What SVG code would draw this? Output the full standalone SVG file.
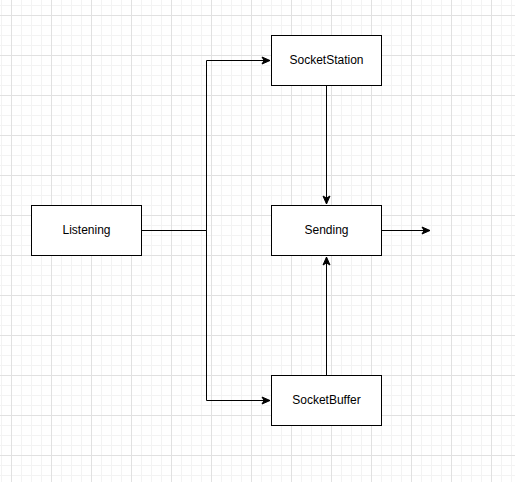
<svg xmlns="http://www.w3.org/2000/svg" width="515" height="482" viewBox="0 0 515 482">
  <style>
    .node rect { fill: #ffffff; stroke: #000000; stroke-width: 1; }
    .node text { font-family: "Liberation Sans", Arial, sans-serif; font-size: 12px; fill: #000000; text-anchor: middle; }
    .edge { fill: none; stroke: #000000; stroke-width: 1; }
  </style>
  <defs>
    <pattern id="grid" patternUnits="userSpaceOnUse" x="11" y="15" width="40" height="40">
      <path d="M10.5,0 V40 M20.5,0 V40 M30.5,0 V40 M0,10.5 H40 M0,20.5 H40 M0,30.5 H40" stroke="#f3f3f3" stroke-width="1" fill="none"/>
      <path d="M0.5,0 V40 M0,0.5 H40" stroke="#e1e1e1" stroke-width="1" fill="none"/>
    </pattern>
    <marker id="arrow" markerUnits="userSpaceOnUse" markerWidth="10" markerHeight="10" refX="8" refY="4" orient="auto" viewBox="0 0 10 8" overflow="visible">
      <path d="M0,0.5 L8,4 L0,7.5 L2,4 Z" fill="#000000" stroke="#000000" stroke-width="1" stroke-linejoin="miter"/>
    </marker>
  </defs>
  <rect x="0" y="0" width="515" height="482" fill="#ffffff"/>
  <rect x="0" y="0" width="515" height="482" fill="url(#grid)"/>

  <g id="connectors">
    <path class="edge" d="M141.5,230.5 H206.5 V60.5 H270" marker-end="url(#arrow)"/>
    <path class="edge" d="M141.5,230.5 H206.5 V400.5 H270" marker-end="url(#arrow)"/>
    <path class="edge" d="M326.5,85.5 V204" marker-end="url(#arrow)"/>
    <path class="edge" d="M326.5,375.5 V257" marker-end="url(#arrow)"/>
    <path class="edge" d="M381.5,230.5 H430" marker-end="url(#arrow)"/>
  </g>

  <g id="listening" class="node">
    <rect x="31.5" y="205.5" width="110" height="50"/>
    <text x="86.5" y="234">Listening</text>
  </g>
  <g id="socketstation" class="node">
    <rect x="271.5" y="35.5" width="110" height="50"/>
    <text x="326.5" y="64">SocketStation</text>
  </g>
  <g id="sending" class="node">
    <rect x="271.5" y="205.5" width="110" height="50"/>
    <text x="326.5" y="234">Sending</text>
  </g>
  <g id="socketbuffer" class="node">
    <rect x="271.5" y="375.5" width="110" height="50"/>
    <text x="326.5" y="404">SocketBuffer</text>
  </g>
</svg>
